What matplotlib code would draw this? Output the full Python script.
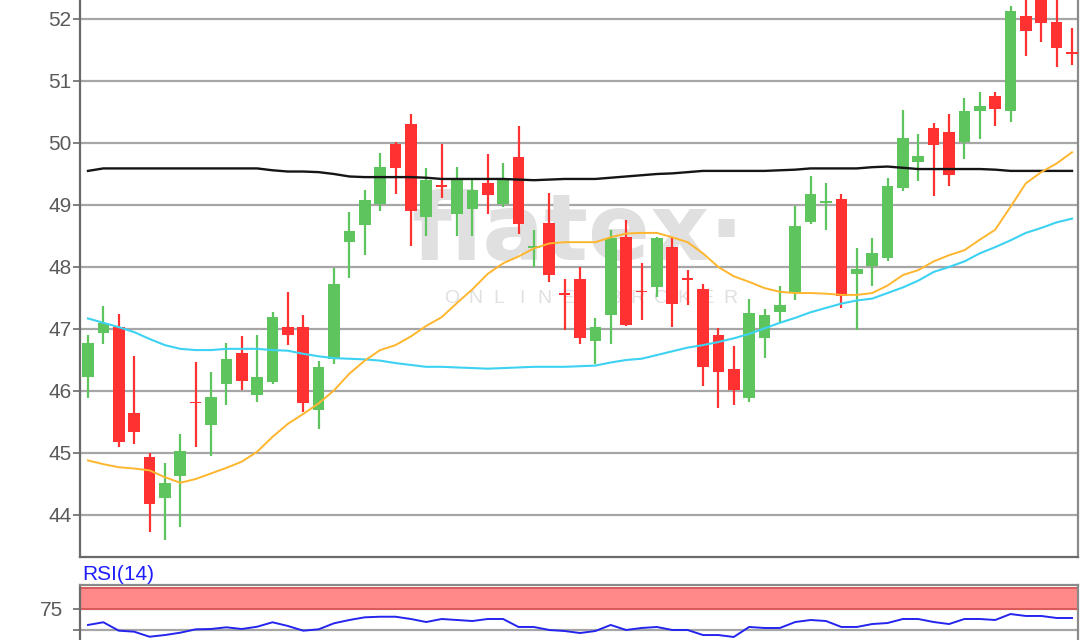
import matplotlib
matplotlib.use("Agg")
import matplotlib.pyplot as plt
import numpy as np

# ---- data ----
opens = [46.22, 46.93, 47.03, 45.65, 44.94, 44.28, 44.63, 45.82, 45.45, 46.12,
         46.62, 45.93, 46.15, 47.03, 47.03, 45.70, 46.52, 48.41, 48.67, 49.01,
         49.98, 50.30, 48.80, 49.31, 48.86, 48.93, 49.36, 49.01, 49.77, 48.31,
         48.71, 47.57, 47.80, 46.81, 47.22, 48.49, 47.61, 47.67, 48.33, 47.81,
         47.65, 46.91, 46.36, 45.89, 46.86, 47.27, 47.59, 48.72, 49.04, 49.10,
         47.89, 48.02, 48.15, 49.28, 49.70, 50.24, 50.17, 50.01, 50.52, 50.75,
         50.52, 52.05, 52.45, 51.95, 51.46]
highs = [46.91, 47.37, 47.24, 46.56, 45.00, 44.84, 45.30, 46.46, 46.30, 46.78,
         46.88, 46.91, 47.27, 47.59, 47.23, 46.49, 47.98, 48.88, 49.24, 49.84,
         50.02, 50.46, 49.59, 49.99, 49.62, 49.40, 49.82, 49.68, 50.27, 48.59,
         49.20, 47.81, 48.00, 47.17, 48.59, 48.75, 48.07, 48.49, 48.49, 47.95,
         47.73, 47.01, 46.72, 47.49, 47.33, 47.69, 48.99, 49.46, 49.36, 49.17,
         48.30, 48.46, 49.43, 50.53, 50.15, 50.33, 50.47, 50.72, 50.82, 50.82,
         52.21, 52.45, 52.60, 52.35, 51.85]
lows = [45.89, 46.76, 45.09, 45.15, 43.73, 43.60, 43.80, 45.09, 44.95, 45.77,
        46.01, 45.82, 46.11, 46.74, 45.66, 45.38, 46.44, 47.83, 48.20, 48.90,
        49.18, 48.34, 48.50, 49.11, 48.50, 48.50, 48.86, 48.96, 48.54, 48.00,
        47.76, 46.99, 46.76, 46.43, 46.76, 47.05, 47.15, 47.51, 47.04, 47.38,
        46.08, 45.73, 45.78, 45.82, 46.54, 47.11, 47.47, 48.69, 48.60, 47.34,
        46.99, 47.70, 48.10, 49.22, 49.38, 49.15, 49.31, 49.74, 50.06, 50.28,
        50.34, 51.41, 51.63, 51.22, 51.25]
closes = [46.78, 47.10, 45.18, 45.34, 44.18, 44.52, 45.03, 45.80, 45.91, 46.52,
          46.16, 46.23, 47.19, 46.90, 45.80, 46.39, 47.72, 48.58, 49.08, 49.61,
          49.60, 48.90, 49.41, 49.29, 49.41, 49.24, 49.16, 49.40, 48.70, 48.33,
          47.87, 47.55, 46.86, 47.03, 48.46, 47.06, 47.59, 48.46, 47.41, 47.79,
          46.38, 46.31, 46.01, 47.26, 47.23, 47.39, 48.66, 49.17, 49.06, 47.54,
          47.97, 48.23, 49.31, 50.08, 49.79, 49.97, 49.48, 50.52, 50.60, 50.55,
          52.13, 51.80, 51.93, 51.54, 51.44]

ma_fast = [44.88, 44.82, 44.77, 44.75, 44.72, 44.61, 44.52, 44.58, 44.67, 44.76,
           44.86, 45.02, 45.26, 45.47, 45.63, 45.80, 46.01, 46.28, 46.49, 46.66,
           46.74, 46.88, 47.05, 47.19, 47.42, 47.64, 47.89, 48.06, 48.17, 48.30,
           48.38, 48.40, 48.40, 48.40, 48.48, 48.54, 48.55, 48.55, 48.48, 48.40,
           48.22, 48.00, 47.85, 47.76, 47.66, 47.60, 47.58, 47.58, 47.57, 47.55,
           47.55, 47.58, 47.70, 47.87, 47.95, 48.09, 48.19, 48.27, 48.44, 48.60,
           48.97, 49.35, 49.53, 49.67, 49.85]
ma_mid = [47.17, 47.10, 47.03, 46.95, 46.84, 46.74, 46.68, 46.66, 46.66, 46.68,
          46.68, 46.68, 46.66, 46.65, 46.60, 46.56, 46.53, 46.52, 46.51, 46.49,
          46.45, 46.42, 46.39, 46.39, 46.38, 46.37, 46.36, 46.37, 46.38, 46.39,
          46.39, 46.39, 46.40, 46.41, 46.46, 46.50, 46.52, 46.58, 46.64, 46.70,
          46.74, 46.79, 46.85, 46.92, 47.01, 47.10, 47.18, 47.27, 47.34, 47.41,
          47.46, 47.49, 47.58, 47.67, 47.78, 47.92, 48.00, 48.09, 48.22, 48.32,
          48.43, 48.55, 48.63, 48.72, 48.78]
ma_slow = [49.55, 49.59, 49.59, 49.59, 49.59, 49.59, 49.59, 49.59, 49.59, 49.59,
           49.59, 49.59, 49.56, 49.54, 49.54, 49.53, 49.50, 49.46, 49.45, 49.45,
           49.45, 49.45, 49.44, 49.42, 49.42, 49.42, 49.42, 49.42, 49.41, 49.40,
           49.41, 49.42, 49.42, 49.42, 49.44, 49.46, 49.48, 49.50, 49.51, 49.53,
           49.55, 49.55, 49.55, 49.55, 49.55, 49.56, 49.57, 49.59, 49.59, 49.59,
           49.59, 49.61, 49.62, 49.60, 49.58, 49.58, 49.58, 49.58, 49.58, 49.57,
           49.55, 49.55, 49.55, 49.55, 49.55]
rsi = [56.0, 59.2, 49.2, 48.0, 42.0, 44.0, 46.8, 50.8, 51.2, 53.2,
       51.2, 53.9, 59.2, 54.8, 49.2, 50.8, 58.0, 61.9, 65.1, 65.8,
       65.8, 63.1, 59.5, 63.1, 61.9, 60.7, 63.1, 63.1, 53.6, 53.6,
       50.0, 48.8, 46.4, 48.8, 56.0, 50.0, 52.4, 53.6, 50.0, 50.0,
       44.0, 44.0, 41.7, 53.6, 52.4, 52.4, 59.5, 61.9, 60.7, 53.6,
       53.6, 57.1, 58.3, 63.1, 63.1, 59.5, 57.1, 63.1, 63.1, 61.9,
       69.0, 66.7, 66.7, 64.3, 64.3]
price_ticks = [44, 45, 46, 47, 48, 49, 50, 51, 52]
rsi_ticks = [50, 75]
rsi_band = (75, 100)

# ---- style ----
W, H = 1080, 640
GREEN = "#5ec45e"
RED = "#ff3131"
GRID = "#a6a6a6"
SPINE = "#6a6a6a"
TXT = "#5a5a5a"
WM = "#e0e0e0"
plt.rcParams["font.family"] = ["Liberation Sans", "DejaVu Sans"]

fig = plt.figure(figsize=(W / 100, H / 100), dpi=100)
fig.patch.set_facecolor("white")

def axrect(l, t, r, b):
    return [l / W, 1 - b / H, (r - l) / W, (b - t) / H]

ax = fig.add_axes(axrect(80, -18.2, 1078, 557))
n = len(opens)
x = np.arange(n)
step = 15.375
ax.set_xlim((80 - 88) / step, (1078 - 88) / step)
ax.set_ylim(52 - (557 - 19) / 62, 52 + 37.2 / 62)

ax.set_yticks(price_ticks)
ax.set_yticklabels([str(t) for t in price_ticks])
ax.set_xticks([])
ax.grid(axis="y", color=GRID, linewidth=1.6)
ax.set_axisbelow(True)
ax.tick_params(axis="y", length=5, width=1.2, color=SPINE, labelsize=15,
               labelcolor=TXT, pad=1)
for s in ["left", "bottom", "right"]:
    ax.spines[s].set_color(SPINE)
    ax.spines[s].set_linewidth(1.6)
ax.spines["right"].set_color("#8a8a8a")
ax.spines["top"].set_visible(False)

# watermark
ax.text((578 - 80) / 998, (557 - 260) / (557 + 18.2), "flatex\u00b7", transform=ax.transAxes,
        ha="center", va="baseline", fontsize=66, fontweight="bold",
        family="DejaVu Sans", color=WM, zorder=1)
letters = "ONLINE BROKER"
for k, ch in enumerate(letters):
    xp = (452 + k * 23.2 - 80) / 998
    ax.text(xp, (557 - 298) / (557 + 18.2), ch, transform=ax.transAxes,
            ha="center", va="center", fontsize=14, color=WM, zorder=1)

# candles
o = np.array(opens); c = np.array(closes); hi = np.array(highs); lo = np.array(lows)
up = c >= o
cols = np.where(up, GREEN, RED)
ax.vlines(x, lo, hi, colors=cols, linewidth=1.6, zorder=3)
body_bot = np.minimum(o, c)
body_h = np.maximum(np.abs(c - o), 0.03)
ax.bar(x, body_h, bottom=body_bot, width=0.76, color=cols, linewidth=0, zorder=4)

# moving averages
ax.plot(x, ma_slow, color="#151515", linewidth=1.7, zorder=5)
ax.plot(x, ma_mid, color="#3dd2f2", linewidth=1.5, zorder=5)
ax.plot(x, ma_fast, color="#ffb62e", linewidth=1.4, zorder=5)

# RSI panel
ax2 = fig.add_axes(axrect(80, 585, 1078, 672))
ax2.set_xlim(ax.get_xlim())
ax2.set_ylim(0, 75 + 24 / 0.84)
ax2.set_xticks([])
ax2.set_yticks(rsi_ticks)
ax2.set_yticklabels(["", "75"])
ax2.grid(axis="y", color=GRID, linewidth=1.6)
ax2.set_axisbelow(True)
ax2.tick_params(axis="y", length=5, width=1.2, color=SPINE, labelsize=15,
                labelcolor=TXT, pad=7)
ax2.axhspan(rsi_band[0], rsi_band[1], facecolor="#ff8888", edgecolor="#d85a5a",
            linewidth=1.4, zorder=2)
ax2.plot(x, rsi, color="#2424ee", linewidth=1.4, zorder=5)
for s in ["left", "top", "right"]:
    ax2.spines[s].set_color(SPINE)
    ax2.spines[s].set_linewidth(1.6)
ax2.spines["top"].set_color("#8a8a8a")
ax2.spines["right"].set_color("#8a8a8a")

fig.text(82 / W, 1 - 574 / H, "RSI(14)", color="#1e1eff", fontsize=15,
         ha="left", va="center")

fig.savefig("out.png", dpi=100)
